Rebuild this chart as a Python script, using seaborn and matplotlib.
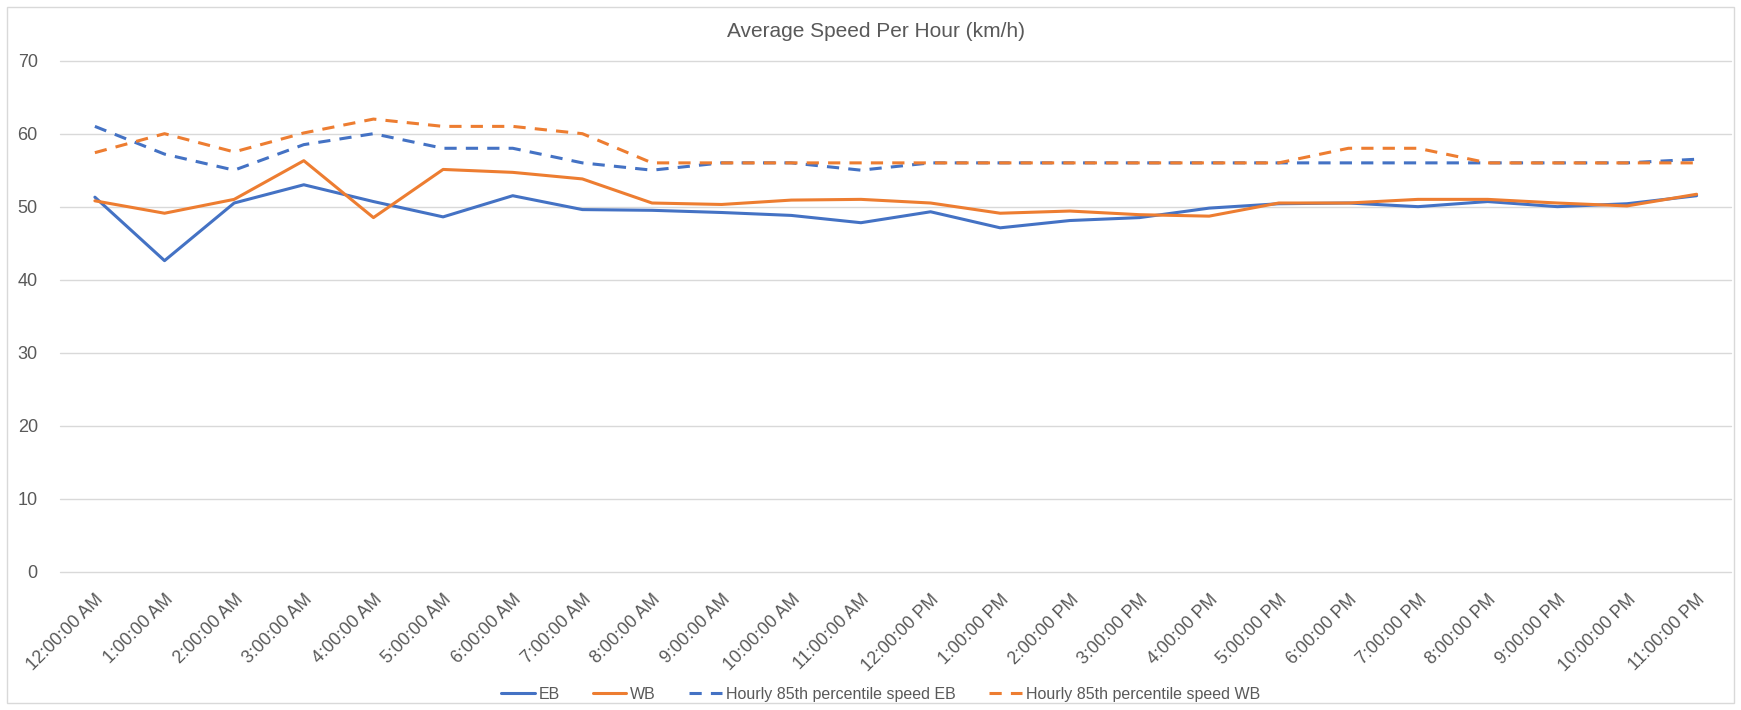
import pandas as pd
import matplotlib.pyplot as plt
import seaborn as sns
from matplotlib.patches import Rectangle

# Hour labels on the x axis
hours = [
    "12:00:00 AM", "1:00:00 AM", "2:00:00 AM", "3:00:00 AM", "4:00:00 AM",
    "5:00:00 AM", "6:00:00 AM", "7:00:00 AM", "8:00:00 AM", "9:00:00 AM",
    "10:00:00 AM", "11:00:00 AM", "12:00:00 PM", "1:00:00 PM", "2:00:00 PM",
    "3:00:00 PM", "4:00:00 PM", "5:00:00 PM", "6:00:00 PM", "7:00:00 PM",
    "8:00:00 PM", "9:00:00 PM", "10:00:00 PM", "11:00:00 PM",
]

# Average speeds (km/h)
eb = [51.3, 42.6, 50.5, 53.0, 50.7, 48.6, 51.5, 49.6, 49.5, 49.2, 48.8, 47.8,
      49.3, 47.1, 48.1, 48.5, 49.8, 50.4, 50.5, 50.0, 50.7, 50.0, 50.4, 51.5]
wb = [50.8, 49.1, 51.0, 56.3, 48.5, 55.1, 54.7, 53.8, 50.5, 50.3, 50.9, 51.0,
      50.5, 49.1, 49.4, 48.9, 48.7, 50.5, 50.5, 51.0, 51.0, 50.5, 50.1, 51.7]

# Hourly 85th percentile speeds (km/h)
eb85 = [61, 57.2, 55, 58.5, 60, 58, 58, 56, 55, 56, 56, 55,
        56, 56, 56, 56, 56, 56, 56, 56, 56, 56, 56, 56.5]
wb85 = [57.4, 60, 57.5, 60.1, 62, 61, 61, 60, 56, 56, 56, 56,
        56, 56, 56, 56, 56, 56, 58, 58, 56, 56, 56, 56]

names = ["EB", "WB", "Hourly 85th percentile speed EB", "Hourly 85th percentile speed WB"]

rows = []
for name, vals in zip(names, [eb, wb, eb85, wb85]):
    for i, v in enumerate(vals):
        rows.append({"hour": i, "speed": v, "series": name})
df = pd.DataFrame(rows)

sns.set_style("white")
plt.rcParams["font.family"] = ["Liberation Sans", "DejaVu Sans"]

blue = "#4472C4"
orange = "#ED7D31"
text_col = "#595959"

fig = plt.figure(figsize=(17.41, 7.10), dpi=100)
ax = fig.add_axes([0.0345, 0.195, 0.96, 0.7195])

palette = {names[0]: blue, names[1]: orange, names[2]: blue, names[3]: orange}
dashes = {names[0]: "", names[1]: "", names[2]: (4, 3), names[3]: (4, 3)}

sns.lineplot(data=df, x="hour", y="speed", hue="series", style="series",
             hue_order=names, style_order=names, palette=palette, dashes=dashes,
             linewidth=2.2, ax=ax)

handles, labels = ax.get_legend_handles_labels()
ax.get_legend().remove()

ax.set_xlim(-0.5, 23.5)
ax.set_ylim(0, 70)
ax.set_yticks(range(0, 71, 10))
ax.set_xticks(range(len(hours)))
ax.set_xticklabels(hours, rotation=45, ha="right", rotation_mode="anchor",
                   fontsize=12.8, color=text_col)
ax.tick_params(axis="y", labelsize=13, labelcolor=text_col, length=0, pad=16)
ax.tick_params(axis="x", length=0, pad=14)
ax.set_xlabel("")
ax.set_ylabel("")
ax.grid(axis="y", color="#D9D9D9", linewidth=1)
for gl in ax.get_ygridlines():
    gl.set_clip_on(False)
ax.set_axisbelow(True)
for s in ax.spines.values():
    s.set_visible(False)

fig.suptitle("Average Speed Per Hour (km/h)", x=0.503, y=0.955, fontsize=15,
             color=text_col, va="center")

fig.legend(handles, labels, loc="center", bbox_to_anchor=(0.506, 0.0225), ncol=4,
           frameon=False, fontsize=11.5, labelcolor=text_col, handlelength=2.1,
           columnspacing=2.05, handletextpad=0.25)

fig.patches.append(Rectangle((0.004, 0.01), 0.992, 0.98, transform=fig.transFigure,
                             fill=False, edgecolor="#D9D9D9", linewidth=1))

fig.savefig("out.png", dpi=100)
